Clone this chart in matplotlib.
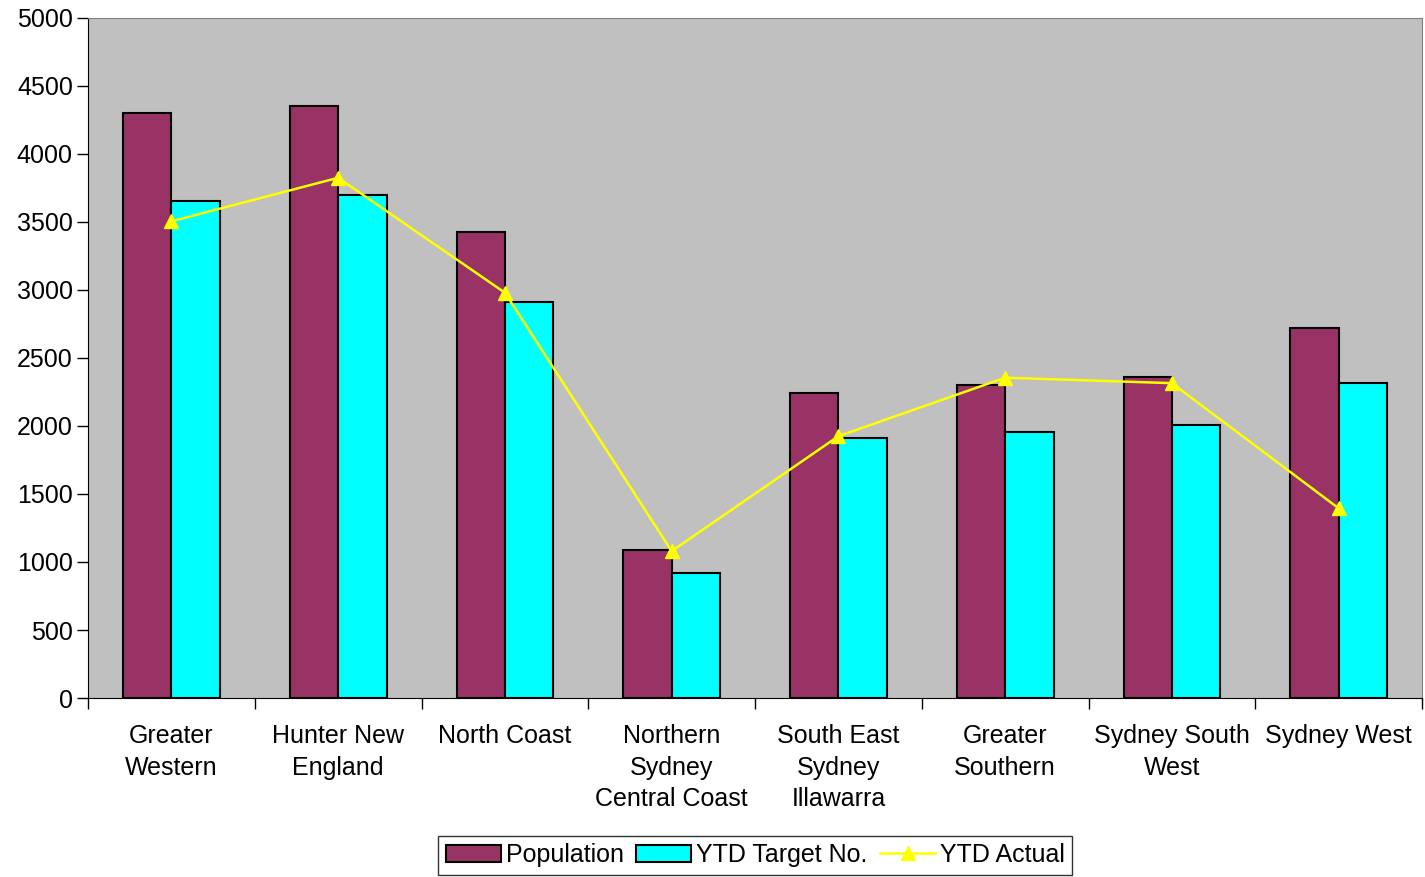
import numpy as np
import matplotlib.pyplot as plt

plt.rcParams['font.family'] = ['Liberation Sans', 'DejaVu Sans']

regions = ["Greater\nWestern", "Hunter New\nEngland", "North Coast",
           "Northern\nSydney\nCentral Coast", "South East\nSydney\nIllawarra",
           "Greater\nSouthern", "Sydney South\nWest", "Sydney West"]
population = [4300, 4350, 3425, 1090, 2245, 2305, 2360, 2720]
ytd_target = [3655, 3700, 2910, 920, 1910, 1955, 2010, 2315]
ytd_actual = [3505, 3825, 2980, 1080, 1925, 2355, 2315, 1395]

fig = plt.figure(figsize=(14.25, 8.77), dpi=100)
ax = fig.add_axes([0.0618, 0.2041, 0.9361, 0.7754])
ax.set_facecolor('#c0c0c0')

x = np.arange(len(regions))
w = 0.29
b1 = ax.bar(x - w / 2, population, w, color='#993366', edgecolor='black', linewidth=1.5,
            label='Population', zorder=2)
b2 = ax.bar(x + w / 2, ytd_target, w, color='#00ffff', edgecolor='black', linewidth=1.5,
            label='YTD Target No.', zorder=2)
ln, = ax.plot(x, ytd_actual, color='#ffff00', linewidth=1.8, marker='^', markersize=10,
              label='YTD Actual', zorder=3)

ax.set_xlim(-0.5, len(regions) - 0.5)
ax.set_ylim(0, 5000)
ax.set_yticks(range(0, 5001, 500))
ax.tick_params(axis='y', labelsize=18, length=8, width=1, direction='out', pad=3)

# category labels between boundary ticks
ax.set_xticks(np.arange(len(regions) + 1) - 0.5)
ax.set_xticklabels([])
ax.tick_params(axis='x', length=8, width=1, direction='out')
ax.set_xticks(x, minor=True)
ax.set_xticklabels(regions, minor=True, fontsize=18, linespacing=1.38)
ax.tick_params(axis='x', which='minor', length=0, pad=19)

for s in ['top', 'right']:
    ax.spines[s].set_color('#808080')
ax.spines['left'].set_color('black')
ax.spines['bottom'].set_color('black')

leg = fig.legend([b1, b2, ln], ['Population', 'YTD Target No.', 'YTD Actual'],
                 loc='lower center', bbox_to_anchor=(0.53, 0.0), ncol=3, fontsize=18,
                 frameon=True, fancybox=False, edgecolor='black', handlelength=2.2,
                 handletextpad=0.2, columnspacing=0.5, borderpad=0.3, borderaxespad=0.1)
leg.get_frame().set_linewidth(1)

fig.savefig('out.png', dpi=100)
